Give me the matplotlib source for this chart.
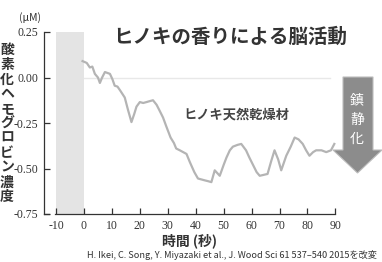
import matplotlib.pyplot as plt
from matplotlib.patches import Polygon

plt.rcParams['axes.unicode_minus'] = False
JP = ['Noto Sans CJK JP', 'DejaVu Sans']

# time (s) and oxy-Hb concentration (uM)
t = [-0.5, 1.0, 2.1, 3.0, 3.9, 5.0, 5.7, 6.5, 7.5, 9.3, 10.2, 11.0, 12.0, 12.9, 14.6,
     15.8, 17.0, 18.0, 18.8, 20.0, 21.2, 22.4, 23.5, 24.7, 26.0, 27.0, 28.3, 29.5,
     31.0, 32.2, 33.0, 34.3, 35.5, 36.7, 37.9, 39.5, 40.8, 42.0, 43.2, 44.5, 45.6,
     46.8, 48.6, 50.0, 51.0, 52.2, 53.3, 55.0, 56.3, 58.0, 59.2, 60.5, 61.8, 62.9,
     64.3, 65.7, 67.0, 68.2, 69.5, 70.6, 72.4, 74.0, 75.4, 76.8, 78.3, 79.5, 80.7,
     82.0, 83.1, 85.0, 86.7, 88.4, 89.6]
oxy = [0.09, 0.08, 0.055, 0.06, 0.02, 0.0, -0.03, 0.0, 0.03, 0.02, -0.01, -0.045,
       -0.05, -0.07, -0.11, -0.18, -0.245, -0.2, -0.16, -0.135, -0.14, -0.135,
       -0.13, -0.125, -0.15, -0.18, -0.22, -0.27, -0.33, -0.36, -0.39, -0.40,
       -0.41, -0.42, -0.465, -0.52, -0.555, -0.56, -0.565, -0.57, -0.575, -0.51,
       -0.54, -0.48, -0.44, -0.40, -0.38, -0.37, -0.365, -0.40, -0.44, -0.48,
       -0.52, -0.54, -0.535, -0.53, -0.46, -0.40, -0.45, -0.51, -0.43, -0.38,
       -0.33, -0.34, -0.365, -0.40, -0.43, -0.41, -0.40, -0.40, -0.41, -0.40, -0.365]

xticks = [-10, 0, 10, 20, 30, 40, 50, 60, 70, 80, 90]
yticks = [0.25, 0.00, -0.25, -0.50, -0.75]
ylabel_chars = list("酸素化ヘモグロビン濃度")
arrow_chars = list("鎮静化")

W, H = 382, 262
fig = plt.figure(figsize=(W / 100, H / 100), dpi=100)
fig.patch.set_facecolor('white')
ax = fig.add_axes([44 / W, 48 / H, 292 / W, 182 / H])

# stimulus-free baseline period
ax.axvspan(-10, 0, color='#e4e4e4', lw=0, zorder=0)
ax.plot([0, 88], [0, 0], color='#e8e8e8', lw=1.0, zorder=1)
ax.plot(t, oxy, color='#b4b4b4', lw=1.6, zorder=2)

ax.set_xlim(-14.3, 90.2)
ax.set_ylim(-0.75, 0.25)
ax.set_xticks(xticks)
ax.set_yticks(yticks)
ax.set_yticklabels([f"{v:.2f}" for v in yticks])
ax.tick_params(direction='in', length=4, width=0.9, colors='#333333',
               labelsize=8.5, pad=4, labelfontfamily='Liberation Serif')
ax.spines['top'].set_visible(False)
ax.spines['right'].set_visible(False)
ax.spines['bottom'].set_bounds(-10.4, 90)
for s in ('left', 'bottom'):
    ax.spines[s].set_linewidth(0.9)
    ax.spines[s].set_color('#333333')
ax.plot([-14.3, -12.5], [-0.75, -0.75], color='#333333', lw=0.9, clip_on=False)

ax.set_xlabel("時間 (秒)", family=JP, fontsize=10, fontweight='bold',
              color='#333333', labelpad=1)

fig.text(230 / W, 1 - 37 / H, "ヒノキの香りによる脳活動", family=JP, fontsize=14,
         fontweight='bold', color='#333333', ha='center', va='center')
fig.text(236 / W, 1 - 115 / H, "ヒノキ天然乾燥材", family=JP, fontsize=9.5,
         fontweight='bold', color='#444444', ha='center', va='center')
fig.text(30 / W, 1 - 18 / H, "(μM)", family=JP, fontsize=7.5,
         color='#333333', ha='center', va='center')

for i, ch in enumerate(ylabel_chars):
    fig.text(7 / W, 1 - (50 + i * 14.7) / H, ch, family=JP, fontsize=10,
             fontweight='bold', color='#333333', ha='center', va='center')

# sedation arrow
pts = [(343, 77), (373, 77), (373, 150), (382, 150), (357.5, 173), (333, 150), (343, 150)]
fig.patches.append(Polygon([(x / W, 1 - y / H) for x, y in pts], closed=True,
                           transform=fig.transFigure, facecolor='#8c8c8c',
                           edgecolor='#bdbdbd', lw=0.8))
for i, ch in enumerate(arrow_chars):
    fig.text(357 / W, 1 - (100 + i * 19.5) / H, ch, family=JP, fontsize=10,
             color='white', ha='center', va='center')

fig.text(232 / W, 1 - 255 / H,
         "H. Ikei, C. Song, Y. Miyazaki et al., J. Wood Sci 61 537–540 2015を改変",
         family=JP, fontsize=6.6, color='#333333', ha='center', va='center')

fig.savefig("out.png", dpi=100, facecolor='white')
